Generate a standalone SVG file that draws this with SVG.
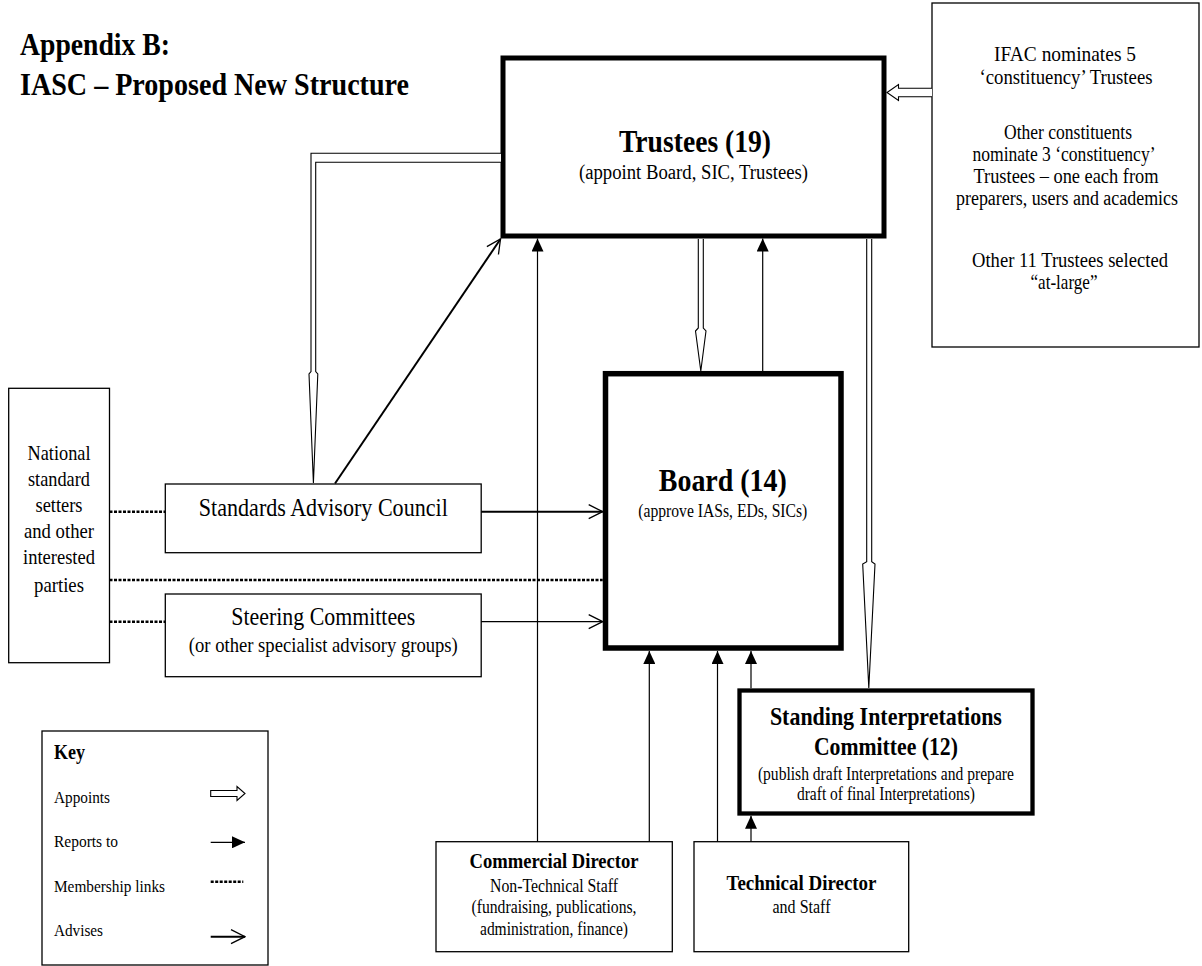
<svg xmlns="http://www.w3.org/2000/svg" width="1202" height="966" viewBox="0 0 1202 966">
<style>
.t{font-family:"Liberation Serif","Times New Roman",serif;fill:#000}
.b{font-weight:bold}
.m{text-anchor:middle}
.box{fill:#fff;stroke:#000;stroke-width:1.3}
.line{stroke:#000;stroke-width:1.2;fill:none}
.dot{stroke:#000;stroke-width:2.5;stroke-dasharray:3 1.5;fill:none}
.app{fill:#fff;stroke:#000;stroke-width:1.1}
.adv{stroke:#000;stroke-width:2;fill:none}
</style>
<defs>
<marker id="rep" markerUnits="userSpaceOnUse" viewBox="0 0 13 12" refX="13" refY="6" markerWidth="13" markerHeight="12" orient="auto"><path d="M0,0 L13,6 L0,12 z" fill="#000"/></marker>
<marker id="adv" markerUnits="userSpaceOnUse" viewBox="0 0 16 16" refX="15" refY="8" markerWidth="16" markerHeight="16" orient="auto"><path d="M1,1 L15,8 L1,15" fill="none" stroke="#000" stroke-width="1.3"/></marker>
</defs>
<rect width="1202" height="966" fill="#fff"/>
<g id="title">
<text class="t b" x="20" y="55" font-size="32" textLength="150" lengthAdjust="spacingAndGlyphs">Appendix B:</text>
<text class="t b" x="20" y="95" font-size="32" textLength="389" lengthAdjust="spacingAndGlyphs">IASC – Proposed New Structure</text>
</g>
<g id="trustees">
<rect x="503" y="58" width="381" height="178" fill="#fff" stroke="#000" stroke-width="5"/>
<text class="t b m" x="695" y="152" font-size="32" textLength="152" lengthAdjust="spacingAndGlyphs">Trustees (19)</text>
<text class="t m" x="693.5" y="178.5" font-size="20.5" textLength="229" lengthAdjust="spacingAndGlyphs">(appoint Board, SIC, Trustees)</text>
</g>
<g id="nominations">
<rect class="box" x="932" y="3" width="267" height="344"/>
<text class="t m" x="1065" y="61" font-size="21.5" textLength="142" lengthAdjust="spacingAndGlyphs">IFAC nominates 5</text>
<text class="t m" x="1066" y="83.5" font-size="21.5" textLength="173" lengthAdjust="spacingAndGlyphs">‘constituency’ Trustees</text>
<text class="t m" x="1068" y="138.5" font-size="21.5" textLength="128" lengthAdjust="spacingAndGlyphs">Other constituents</text>
<text class="t m" x="1064" y="160.5" font-size="21.5" textLength="183" lengthAdjust="spacingAndGlyphs">nominate 3 ‘constituency’</text>
<text class="t m" x="1066" y="182.5" font-size="21.5" textLength="185" lengthAdjust="spacingAndGlyphs">Trustees – one each from</text>
<text class="t m" x="1067" y="205" font-size="20" textLength="222" lengthAdjust="spacingAndGlyphs">preparers, users and academics</text>
<text class="t m" x="1070" y="266.5" font-size="21" textLength="196" lengthAdjust="spacingAndGlyphs">Other 11 Trustees selected</text>
<text class="t m" x="1064" y="288.5" font-size="21.5" textLength="67" lengthAdjust="spacingAndGlyphs">“at-large”</text>
</g>
<g id="national">
<rect class="box" x="8.7" y="388.3" width="100.8" height="274.4"/>
<text class="t m" x="59" y="460" font-size="21" textLength="63" lengthAdjust="spacingAndGlyphs">National</text>
<text class="t m" x="59" y="486" font-size="21" textLength="62" lengthAdjust="spacingAndGlyphs">standard</text>
<text class="t m" x="59" y="512" font-size="21" textLength="47" lengthAdjust="spacingAndGlyphs">setters</text>
<text class="t m" x="59" y="538" font-size="21" textLength="70" lengthAdjust="spacingAndGlyphs">and other</text>
<text class="t m" x="59" y="564" font-size="21" textLength="72" lengthAdjust="spacingAndGlyphs">interested</text>
<text class="t m" x="59" y="591.5" font-size="21" textLength="50" lengthAdjust="spacingAndGlyphs">parties</text>
</g>
<g id="sac">
<rect class="box" x="165.3" y="484" width="315.9" height="68.7"/>
<text class="t m" x="323.3" y="516" font-size="25" textLength="249" lengthAdjust="spacingAndGlyphs">Standards Advisory Council</text>
</g>
<g id="steering">
<rect class="box" x="165.3" y="594" width="315.9" height="82.7"/>
<text class="t m" x="323.3" y="625" font-size="25" textLength="184" lengthAdjust="spacingAndGlyphs">Steering Committees</text>
<text class="t m" x="323.3" y="651.7" font-size="21" textLength="269" lengthAdjust="spacingAndGlyphs">(or other specialist advisory groups)</text>
</g>
<g id="board">
<rect x="605.5" y="373.7" width="235.5" height="274.3" fill="#fff" stroke="#000" stroke-width="5.5"/>
<text class="t b m" x="722.8" y="491" font-size="31" textLength="128" lengthAdjust="spacingAndGlyphs">Board (14)</text>
<text class="t m" x="722.8" y="517" font-size="18.5" textLength="169" lengthAdjust="spacingAndGlyphs">(approve IASs, EDs, SICs)</text>
</g>
<g id="sic">
<rect x="739.5" y="690.5" width="293" height="123" fill="#fff" stroke="#000" stroke-width="4.3"/>
<text class="t b m" x="885.9" y="725" font-size="26" textLength="232" lengthAdjust="spacingAndGlyphs">Standing Interpretations</text>
<text class="t b m" x="885.9" y="755" font-size="26" textLength="144" lengthAdjust="spacingAndGlyphs">Committee (12)</text>
<text class="t m" x="885.9" y="779.5" font-size="18.5" textLength="256" lengthAdjust="spacingAndGlyphs">(publish draft Interpretations and prepare</text>
<text class="t m" x="885.9" y="799.5" font-size="18.5" textLength="178" lengthAdjust="spacingAndGlyphs">draft of final Interpretations)</text>
</g>
<g id="commercial">
<rect class="box" x="436" y="841.7" width="236.3" height="110"/>
<text class="t b m" x="554" y="868.3" font-size="21.5" textLength="169" lengthAdjust="spacingAndGlyphs">Commercial Director</text>
<text class="t m" x="554" y="891.7" font-size="18.5" textLength="128" lengthAdjust="spacingAndGlyphs">Non-Technical Staff</text>
<text class="t m" x="554" y="913.3" font-size="18.5" textLength="165" lengthAdjust="spacingAndGlyphs">(fundraising, publications,</text>
<text class="t m" x="554" y="935" font-size="18.5" textLength="148" lengthAdjust="spacingAndGlyphs">administration, finance)</text>
</g>
<g id="technical">
<rect class="box" x="694" y="841.7" width="214.7" height="110"/>
<text class="t b m" x="801.5" y="890" font-size="21.5" textLength="150" lengthAdjust="spacingAndGlyphs">Technical Director</text>
<text class="t m" x="801.5" y="913.3" font-size="18.5" textLength="58" lengthAdjust="spacingAndGlyphs">and Staff</text>
</g>
<g id="key">
<rect class="box" x="42" y="731" width="226" height="234"/>
<text class="t b" x="54" y="759" font-size="20" textLength="31" lengthAdjust="spacingAndGlyphs">Key</text>
<text class="t" x="54" y="803" font-size="17.5" textLength="56" lengthAdjust="spacingAndGlyphs">Appoints</text>
<text class="t" x="54" y="847.3" font-size="17.5" textLength="64" lengthAdjust="spacingAndGlyphs">Reports to</text>
<text class="t" x="54" y="891.7" font-size="17.5" textLength="111" lengthAdjust="spacingAndGlyphs">Membership links</text>
<text class="t" x="54" y="936" font-size="17.5" textLength="49" lengthAdjust="spacingAndGlyphs">Advises</text>
<path class="app" d="M210.7,790.5 H237 V786.5 L245,793.5 L237,800.5 V796.5 H210.7 Z"/>
<path class="line" d="M210.7,842.3 H245" marker-end="url(#rep)"/>
<path class="dot" d="M210.7,881.7 H243.3"/>
<path class="adv" d="M210.7,936.7 H245" marker-end="url(#adv)"/>
</g>
<g id="connectors">
<path class="app" d="M501,153.3 H311 V371.5 L309,374 L313.4,483 L317.8,374 L315.7,371.5 V162.3 H501"/>
<path class="app" d="M698.3,239 V328 L695.5,331 L700.8,371 L706,331 L703.3,328 V239"/>
<path class="app" d="M866.7,239 V561.7 L862.7,564 L868.8,688 L875,564 L871.7,561.7 V239"/>
<path class="app" d="M932,88.3 H898.5 V84.5 L887,92.5 L898.5,100.5 V96.7 H932"/>
<path class="line" d="M537.5,841.7 V238.5" marker-end="url(#rep)"/>
<path class="line" d="M762.7,371 V238.5" marker-end="url(#rep)"/>
<path class="line" d="M649.3,841.7 V651" marker-end="url(#rep)"/>
<path class="line" d="M717.5,841.7 V651" marker-end="url(#rep)"/>
<path class="line" d="M751,688.3 V651" marker-end="url(#rep)"/>
<path class="line" d="M751,841.7 V815.7" marker-end="url(#rep)"/>
<path class="adv" d="M481.2,511.7 H602.7" marker-end="url(#adv)"/>
<path class="line" d="M481.2,621.7 H602.7" marker-end="url(#adv)"/>
<path class="adv" d="M335,483.5 L500.5,239" marker-end="url(#adv)"/>
<path class="dot" d="M109.5,511.7 H165.3"/>
<path class="dot" d="M109.5,580 H602.7"/>
<path class="dot" d="M109.5,621.7 H165.3"/>
</g>
</svg>
